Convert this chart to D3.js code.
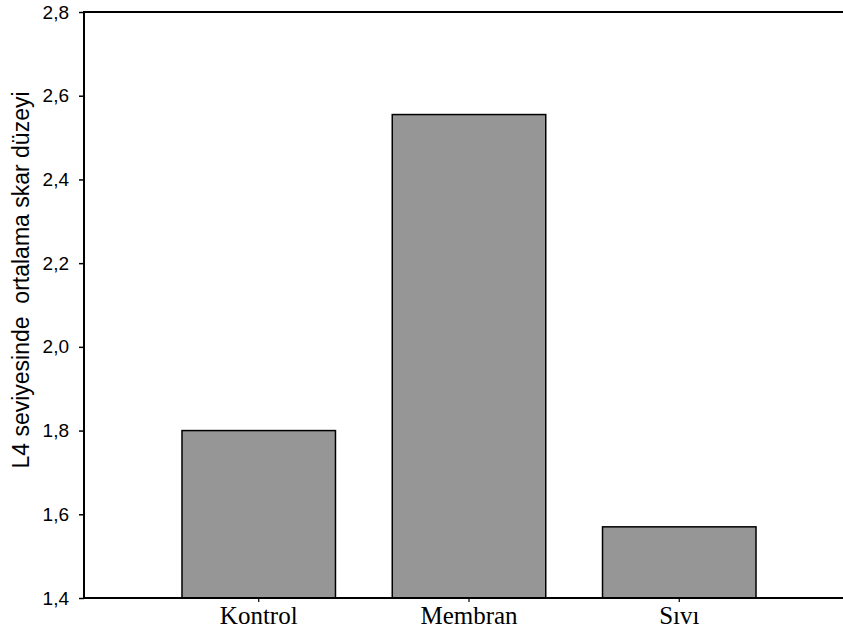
<!DOCTYPE html>
<html>
<head>
<meta charset="utf-8">
<script src="https://cdn.jsdelivr.net/npm/d3@7"></script>
<style>
  body { margin: 0; background: #fff; }
</style>
</head>
<body>
<div class="chart"></div>
<script>
const width = 843;
const height = 631;

// values
const categories = ["Kontrol", "Membran", "Sıvı"];
const means = [1.80, 2.555, 1.57];
const yTicks = [1.4, 1.6, 1.8, 2.0, 2.2, 2.4, 2.6, 2.8];
const yTitle = "L4 seviyesinde  ortalama skar düzeyi";

const axisLeft = 84, axisTop = 12, axisBottom = 598;

const svg = d3.select(".chart")
  .append("svg")
  .attr("width", width)
  .attr("height", height);

const x = d3.scaleBand()
  .domain(categories)
  .range([axisLeft, 854])
  .paddingInner(0.27)
  .paddingOuter(0.466);

const y = d3.scaleLinear()
  .domain([1.4, 2.8])
  .range([axisBottom, axisTop]);

// bars
svg.append("g")
  .selectAll("rect")
  .data(categories)
  .join("rect")
  .attr("x", d => x(d))
  .attr("width", x.bandwidth())
  .attr("y", (d, i) => y(means[i]))
  .attr("height", (d, i) => axisBottom - y(means[i]))
  .attr("fill", "#969696")
  .attr("stroke", "#000")
  .attr("stroke-width", 1.5);

// y axis
const fmt = d => d3.format(".1f")(d).replace(".", ",");
const yAxis = svg.append("g")
  .attr("transform", `translate(${axisLeft},0)`)
  .call(d3.axisLeft(y).tickValues(yTicks).tickFormat(fmt).tickSize(5).tickPadding(10));
yAxis.select(".domain").remove();
yAxis.selectAll(".tick line").attr("stroke", "#000").attr("stroke-width", 1.5);
yAxis.selectAll(".tick text")
  .attr("font-family", "Arial, 'Liberation Sans', sans-serif")
  .attr("font-size", 19)
  .attr("fill", "#000");

svg.append("line")
  .attr("x1", axisLeft).attr("x2", axisLeft)
  .attr("y1", axisTop - 1).attr("y2", axisBottom + 1)
  .attr("stroke", "#000").attr("stroke-width", 2);

// x axis
const xAxis = svg.append("g")
  .attr("transform", `translate(0,${axisBottom})`)
  .call(d3.axisBottom(x).tickSize(4).tickPadding(4));
xAxis.select(".domain").remove();
xAxis.selectAll(".tick line").attr("stroke", "#000").attr("stroke-width", 1.2);
xAxis.selectAll(".tick text")
  .attr("font-family", "'Times New Roman', 'Liberation Serif', serif")
  .attr("font-size", 25)
  .attr("fill", "#000");

svg.append("line")
  .attr("x1", axisLeft).attr("x2", width)
  .attr("y1", axisBottom).attr("y2", axisBottom)
  .attr("stroke", "#000").attr("stroke-width", 2);

// top frame line
svg.append("line")
  .attr("x1", axisLeft).attr("x2", width)
  .attr("y1", axisTop).attr("y2", axisTop)
  .attr("stroke", "#000").attr("stroke-width", 2);

// y title
svg.append("text")
  .attr("transform", "translate(29,280) rotate(-90)")
  .attr("text-anchor", "middle")
  .attr("font-family", "Arial, 'Liberation Sans', sans-serif")
  .attr("font-size", 23)
  .attr("fill", "#000")
  .style("white-space", "pre")
  .text(yTitle);
</script>
</body>
</html>
